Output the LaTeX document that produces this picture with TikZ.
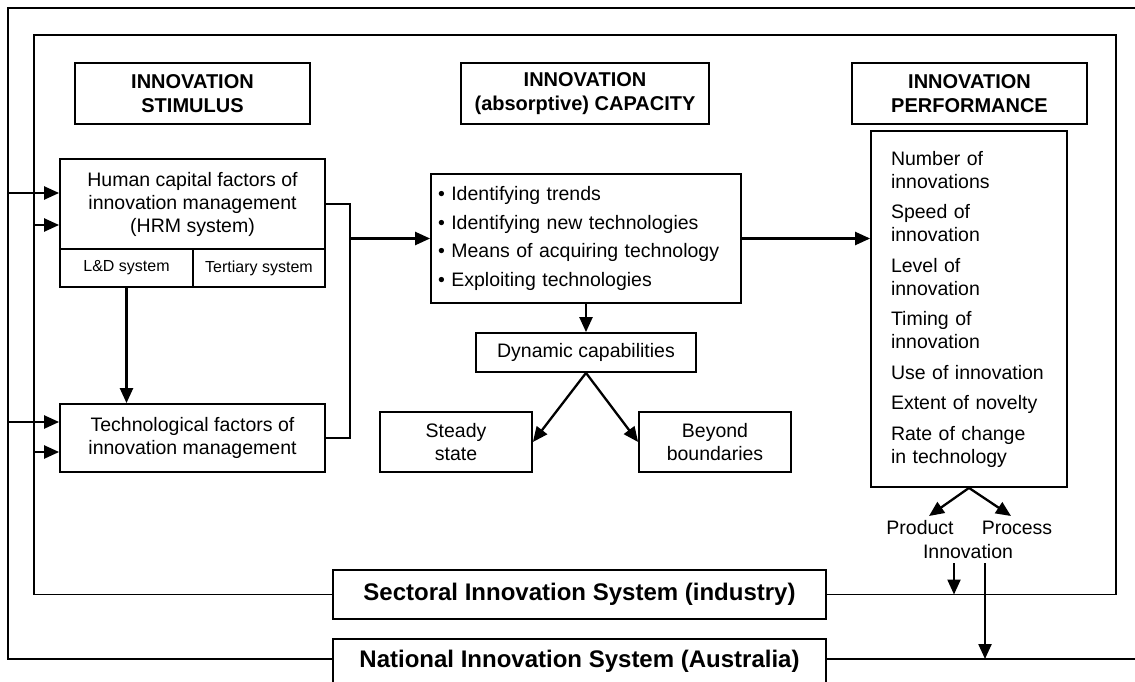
\documentclass[tikz,border=0pt]{standalone}
\usepackage{fontspec}
\setmainfont{Liberation Sans}
\usetikzlibrary{arrows.meta}
\begin{document}
\begin{tikzpicture}[x=1pt,y=-1pt,
  box/.style={draw,line width=1.8pt,rectangle,inner sep=0pt,align=center,
    font=\fontsize{19.5}{23}\selectfont},
  hdr/.style={box,minimum height=61pt,font=\fontsize{20}{24}\selectfont\bfseries},
  sys/.style={box,minimum width=493pt,font=\fontsize{24}{27}\selectfont\bfseries},
  sub/.style={box,minimum height=38pt,font=\fontsize{16}{19}\selectfont},
  ln/.style={line width=1.8pt},
  arr/.style={line width=2.3pt,-{Triangle[length=15pt,width=13pt]}},
  lbl/.style={inner sep=0pt,font=\fontsize{19.5}{23}\selectfont}
]
\clip (0,0) rectangle (1135,682);
\fill[white] (0,0) rectangle (1135,682);

% headers
\node[hdr,minimum width=235pt] (hdrS) at (192.5,93.5) {INNOVATION\\STIMULUS};
\node[hdr,minimum width=248pt] (hdrC) at (585,93.5) {INNOVATION\\(absorptive) CAPACITY};
\node[hdr,minimum width=235pt] (hdrP) at (969.5,93.5) {INNOVATION\\PERFORMANCE};

% stimulus column
\node[box,minimum width=265pt,minimum height=90pt] (hc) at (192.5,204)
  {Human capital factors of\\innovation management\\(HRM system)};
\node[sub,minimum width=133pt] (ld) at (126.5,268) {L\&D system};
\node[sub,minimum width=132pt] (ter) at (259,268) {Tertiary system};
\node[box,minimum width=265pt,minimum height=68pt] (tech) at (192.5,438)
  {Technological factors of\\innovation management};

% capacity column
\node[box,text width=296pt,inner xsep=7pt,minimum height=129pt,align=left,
  font=\fontsize{19.5}{28.5}\selectfont] (cap) at (586,238.5)
  {• Identifying trends\\• Identifying new technologies\\• Means of acquiring technology\\• Exploiting technologies};
\node[box,minimum width=220pt,minimum height=39pt] (dyn) at (586,352.5) {Dynamic capabilities};
\node[box,minimum width=152pt,minimum height=60pt] (steady) at (456,442) {Steady\\state};
\node[box,minimum width=152pt,minimum height=60pt] (beyond) at (715,442) {Beyond\\boundaries};

% performance column
\node[box,text width=156pt,inner xsep=20pt,minimum height=356pt,align=left] (perf) at (969,309)
  {Number of\\innovations\\[7.5pt]Speed of\\innovation\\[7.5pt]Level of\\innovation\\[7.5pt]Timing of\\innovation\\[7.5pt]Use of innovation\\[7.5pt]Extent of novelty\\[7.5pt]Rate of change\\in technology};
\node[lbl] (prod) at (920,528) {Product};
\node[lbl] (proc) at (1017,528) {Process};
\node[lbl] (innov) at (968,552) {Innovation};

% system boxes
\node[sys,minimum height=49pt] (sect) at (579.5,594.5) {Sectoral Innovation System (industry)};
\node[sys,minimum height=44pt] (nat) at (579.5,661) {National Innovation System (Australia)};

% frames
\coordinate (inTL) at (34,35);
\coordinate (inTR) at (1116,35);
\coordinate (outTL) at (8,8);
\coordinate (outTR) at (1150,8);
\coordinate (outR) at (1150,0);
\coordinate (natL) at (nat.west |- 0,659);
\coordinate (natR) at (nat.east |- 0,659);
\draw[ln] (sect.west) -| (inTL) -- (inTR) |- (sect.east);
\draw[ln] (natL) -| (outTL) -- (outTR);
\draw[ln] (natR) -- (natR -| outR);

% inputs from the frames
\coordinate (a1) at (8,193);
\coordinate (a2) at (34,225);
\coordinate (a3) at (8,422);
\coordinate (a4) at (34,452);
\draw[arr] (a1) -- (a1 -| hc.west);
\draw[arr] (a2) -- (a2 -| hc.west);
\draw[arr] (a3) -- (a3 -| tech.west);
\draw[arr] (a4) -- (a4 -| tech.west);

% stimulus to capacity
\draw[arr] (ld.south) -- (ld.south |- tech.north);
\coordinate (bus) at (350,0);
\draw[ln] (hc.east) -| (tech.east -| bus) -- (tech.east);
\draw[arr] (cap.west -| bus) -- (cap.west);

% capacity
\draw[arr] (cap.east) -- (cap.east -| perf.west);
\draw[arr] (cap.south) -- (dyn.north);
\draw[arr] (dyn.south) -- (steady.east);
\draw[arr] (dyn.south) -- (beyond.west);

% performance outputs
\coordinate (tp1) at (929,516);
\coordinate (tp2) at (1011,516);
\draw[arr] (perf.south) -- (tp1);
\draw[arr] (perf.south) -- (tp2);
\coordinate (d1) at (954,563);
\coordinate (d2) at (985,563);
\draw[arr] (d1) -- (d1 |- sect.east);
\draw[arr] (d2) -- (d2 |- natR);
\end{tikzpicture}
\end{document}
